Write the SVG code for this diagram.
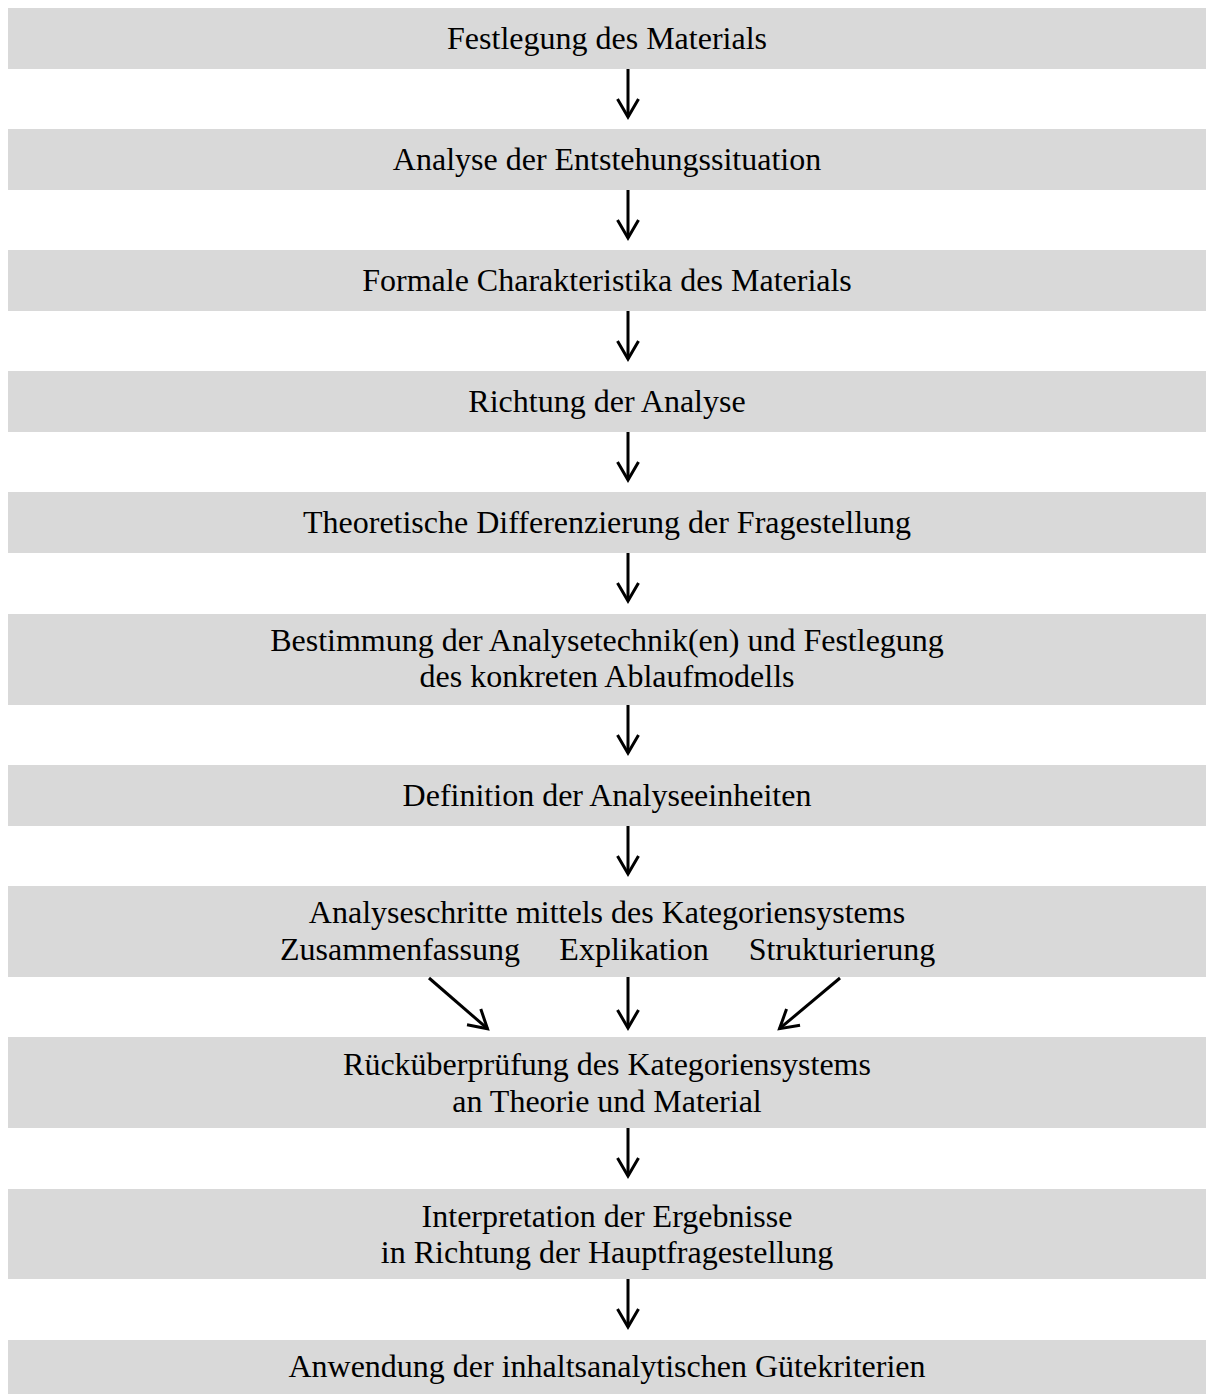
<svg xmlns="http://www.w3.org/2000/svg" width="1206" height="1394" viewBox="0 0 1206 1394">
<style>
.box{fill:#d9d9d9;stroke:none}
.t{font-family:"Liberation Serif","Times New Roman",serif;font-size:32px;fill:#000;text-anchor:middle}
.c{stroke:#000;stroke-width:3;fill:none;marker-end:url(#ah)}
</style>
<defs>
<marker id="ah" markerUnits="userSpaceOnUse" markerWidth="30" markerHeight="30" viewBox="-25 -15 30 30" refX="0" refY="0" orient="auto">
<path d="M-18,-10.5 L0,0 L-18,10.5" fill="none" stroke="#000" stroke-width="3" stroke-linejoin="miter"/>
</marker>
</defs>
<rect width="1206" height="1394" fill="#fff"/>
<g id="n1"><rect class="box" x="8" y="8" width="1198" height="61"/><text class="t" x="607" y="49">Festlegung des Materials</text></g>
<g id="n2"><rect class="box" x="8" y="129" width="1198" height="61"/><text class="t" x="607" y="170">Analyse der Entstehungssituation</text></g>
<g id="n3"><rect class="box" x="8" y="250" width="1198" height="61"/><text class="t" x="607" y="291">Formale Charakteristika des Materials</text></g>
<g id="n4"><rect class="box" x="8" y="371" width="1198" height="61"/><text class="t" x="607" y="412">Richtung der Analyse</text></g>
<g id="n5"><rect class="box" x="8" y="492" width="1198" height="61"/><text class="t" x="607" y="533">Theoretische Differenzierung der Fragestellung</text></g>
<g id="n6"><rect class="box" x="8" y="614" width="1198" height="91"/><text class="t" x="607" y="651">Bestimmung der Analysetechnik(en) und Festlegung</text><text class="t" x="607" y="687">des konkreten Ablaufmodells</text></g>
<g id="n7"><rect class="box" x="8" y="765" width="1198" height="61"/><text class="t" x="607" y="806">Definition der Analyseeinheiten</text></g>
<g id="n8"><rect class="box" x="8" y="886" width="1198" height="91"/><text class="t" x="607" y="923">Analyseschritte mittels des Kategoriensystems</text><text class="t" y="960"><tspan x="400">Zusammenfassung</tspan><tspan x="634">Explikation</tspan><tspan x="842">Strukturierung</tspan></text></g>
<g id="n9"><rect class="box" x="8" y="1037" width="1198" height="91"/><text class="t" x="607" y="1075">Rücküberprüfung des Kategoriensystems</text><text class="t" x="607" y="1112">an Theorie und Material</text></g>
<g id="n10"><rect class="box" x="8" y="1189" width="1198" height="90"/><text class="t" x="607" y="1227">Interpretation der Ergebnisse</text><text class="t" x="607" y="1263">in Richtung der Hauptfragestellung</text></g>
<g id="n11"><rect class="box" x="8" y="1340" width="1198" height="54"/><text class="t" x="607" y="1377">Anwendung der inhaltsanalytischen Gütekriterien</text></g>
<g id="connectors">
<line class="c" x1="628" y1="69" x2="628" y2="117"/>
<line class="c" x1="628" y1="190" x2="628" y2="238"/>
<line class="c" x1="628" y1="311" x2="628" y2="359"/>
<line class="c" x1="628" y1="432" x2="628" y2="480"/>
<line class="c" x1="628" y1="553" x2="628" y2="601"/>
<line class="c" x1="628" y1="705" x2="628" y2="753"/>
<line class="c" x1="628" y1="826" x2="628" y2="874"/>
<line class="c" x1="429" y1="978" x2="487.5" y2="1028.7"/>
<line class="c" x1="628" y1="977" x2="628" y2="1028"/>
<line class="c" x1="840" y1="978" x2="779.5" y2="1028.7"/>
<line class="c" x1="628" y1="1128" x2="628" y2="1176"/>
<line class="c" x1="628" y1="1279" x2="628" y2="1327"/>
</g>
</svg>
